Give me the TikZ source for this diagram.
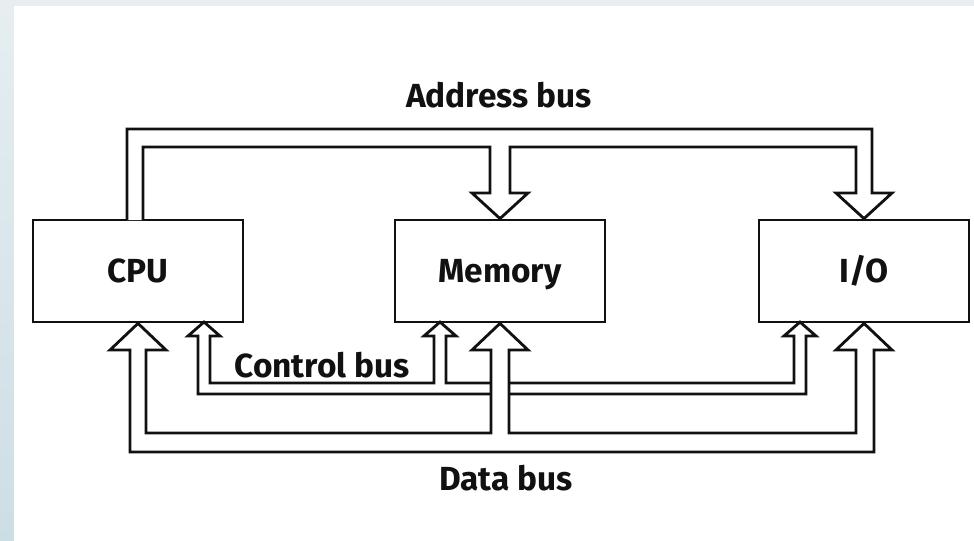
\documentclass[tikz,border=0pt]{standalone}
\usepackage{fontspec}
\setmainfont{Fira Sans}
\usetikzlibrary{calc}
\definecolor{bgtop}{HTML}{E6EEF1}
\definecolor{bgbot}{HTML}{CCDEE5}
\definecolor{inkc}{HTML}{111111}

\begin{document}
\begin{tikzpicture}[x=0.02cm, y=-0.02cm, line width=1.6pt,
    blk/.style={draw=inkc, fill=white, minimum width=4.2cm, minimum height=2.04cm,
                text height=13pt, text depth=0pt,
                font=\bfseries\fontsize{19}{21}\selectfont, text=inkc},
    bus/.style={draw=inkc, fill=white, line join=miter},
    lbl/.style={font=\bfseries\fontsize{19}{21}\selectfont, text=inkc}]
  \useasboundingbox (0,0) rectangle (974,541);
  % page edge
  \shade[top color=bgtop, bottom color=bgbot] (0,0) rectangle (974,541);
  \fill[white] (14,6) rectangle (974,541);
  % units
  \node[blk] (cpu) at (138,271) {CPU};
  \node[blk] (mem) at (500,271) {Memory};
  \node[blk] (io)  at (864,271) {I/O};
  % address bus
  \draw[bus] (127,220) |- (872,129) -- (872,193) -- (892,193) -- (io.north)
     -- (836,193) -- (856,193) |- (510,147) -- (510,193) -- (528,193) -- (mem.north)
     -- (472,193) -- (490,193) |- (143,147) -- (143,220);
  \node[lbl] (abus) at (499,95) {Address bus};
  % control bus
  \draw[bus] (204,322) -- (220,336) -- (210,336) |- (434,383) -- (434,336)
     -- (424,336) -- (440,322) -- (456,336) -- (446,336) |- (794,383) -- (794,336)
     -- (784,336) -- (800,322) -- (816,336) -- (806,336) |- (198,394) -- (198,336)
     -- (188,336) -- cycle;
  \node[lbl] (cbus) at (322,365) {Control bus};
  % data bus
  \draw[bus] (cpu.south) -- (166,350) -- (146,350) |- (491,433) -- (491,350)
     -- (472,350) -- (mem.south) -- (528,350) -- (509,350) |- (856,433) -- (856,350)
     -- (836,350) -- (io.south) -- (892,350) -- (874,350) |- (130,452) -- (130,350)
     -- (110,350) -- cycle;
  \node[lbl] (dbus) at (506,478) {Data bus};
\end{tikzpicture}
\end{document}
